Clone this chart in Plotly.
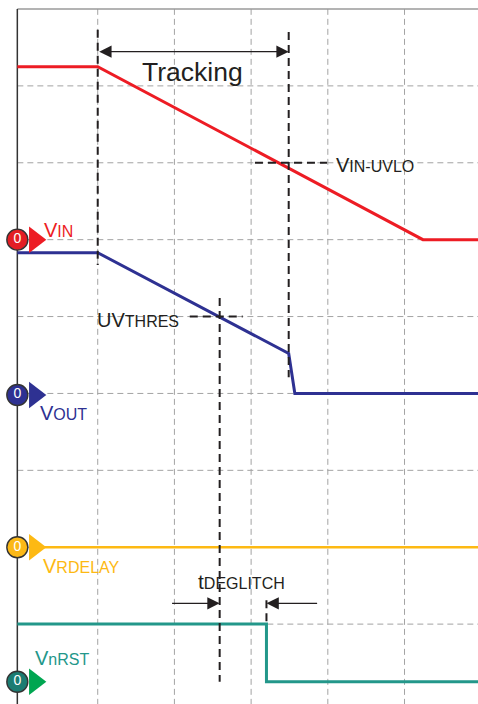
import plotly.graph_objects as go

# x in grid divisions, y in grid divisions counted from the bottom
vinX = [-0.048, 1.0, 5.24, 5.96]
vinY = [8.25, 8.25, 6.0, 6.0]

voutX = [-0.048, 1.0, 3.49, 3.57, 5.96]
voutY = [5.83, 5.83, 4.52, 4.0, 4.0]

vrdelayX = [0.29, 5.96]
vrdelayY = [2.0, 2.0]

vnrstX = [-0.048, 3.20, 3.20, 5.96]
vnrstY = [1.0, 1.0, 0.25, 0.25]

zeroLevels = [6.0, 3.98, 2.0, 0.25]   # VIN, VOUT, VRDELAY, VnRST
gridX = [1, 2, 3, 4, 5]
gridY = [1, 2, 3, 4, 5, 6, 7, 8]

RED = '#ed1c24'
BLUE = '#2e3192'
YELLOW = '#fdb913'
TEAL = '#23978a'
DARK = '#231f20'
FONT = 'Liberation Sans, Arial, sans-serif'
AXL = -0.048

fig = go.Figure()

# 파형
fig.add_trace(go.Scatter(x=vinX, y=vinY, mode='lines', line=dict(color=RED, width=3)))
fig.add_trace(go.Scatter(x=voutX, y=voutY, mode='lines', line=dict(color=BLUE, width=3)))
fig.add_trace(go.Scatter(x=vrdelayX, y=vrdelayY, mode='lines', line=dict(color=YELLOW, width=2.5)))
fig.add_trace(go.Scatter(x=vnrstX, y=vnrstY, mode='lines', line=dict(color=TEAL, width=3)))

# 0 레벨 마커
circleCols = ['#e31e24', BLUE, '#fbb817', '#1b7c72']
triCols = [RED, BLUE, YELLOW, '#00a651']
for lvl, cc, tc in zip(zeroLevels, circleCols, triCols):
    fig.add_trace(go.Scatter(x=[0.18], y=[lvl], mode='markers',
                             marker=dict(symbol='triangle-right', size=23, color=tc)))
    fig.add_trace(go.Scatter(x=[AXL], y=[lvl], mode='markers+text', text=['0'],
                             textposition='middle center',
                             textfont=dict(color='white', size=14, family=FONT),
                             marker=dict(size=21, color=cc, line=dict(color='#333333', width=1.4))))

shapes = []
for gx in gridX:
    shapes.append(dict(type='line', xref='x', yref='y', x0=gx, x1=gx, y0=-0.05, y1=9,
                       line=dict(color='#a3a3a3', width=1, dash='6px,4px'), layer='below'))
for gy in gridY:
    shapes.append(dict(type='line', xref='x', yref='y', x0=AXL, x1=6.0, y0=gy, y1=gy,
                       line=dict(color='#a3a3a3', width=1, dash='6px,4px'), layer='below'))
shapes.append(dict(type='line', xref='x', yref='y', x0=AXL, x1=6.0, y0=9, y1=9,
                   line=dict(color='#9a9a9a', width=1.5), layer='below'))
shapes.append(dict(type='line', xref='x', yref='y', x0=AXL, x1=AXL, y0=-0.05, y1=9,
                   line=dict(color='#333333', width=1.5), layer='below'))

# 검은 점선 (기준선)
blackDash = [
    (1.0, 1.0, 8.73, 5.67),
    (3.49, 3.49, 8.70, 4.21),
    (2.59, 2.59, 5.24, 0.25),
    (3.20, 3.20, 1.31, 1.0),
    (3.05, 3.99, 7.0, 7.0),
    (2.20, 2.89, 5.0, 5.0),
]
for x0, x1, y0, y1 in blackDash:
    shapes.append(dict(type='line', xref='x', yref='y', x0=x0, x1=x1, y0=y0, y1=y1,
                       line=dict(color=DARK, width=2, dash='8px,5px')))

def label(big, small, size2=16):
    return big + '<span style="font-size:%spx">%s</span>' % (size2, small)

annotations = [
    dict(x=2.24, y=8.18, text='Tracking', font=dict(size=26.5, color=DARK)),
    dict(x=4.08, y=6.97, xanchor='left', text=label('V', 'IN-UVLO'), font=dict(size=20, color=DARK)),
    dict(x=0.96, y=4.96, xanchor='left', text=label('UV', 'THRES'), font=dict(size=20, color=DARK)),
    dict(x=0.28, y=6.12, xanchor='left', text=label('V', 'IN'), font=dict(size=20, color=RED)),
    dict(x=0.22, y=3.75, xanchor='left', text=label('V', 'OUT'), font=dict(size=20, color=BLUE)),
    dict(x=0.26, y=1.76, xanchor='left', text=label('V', 'RDELAY'), font=dict(size=20, color=YELLOW)),
    dict(x=0.15, y=0.56, xanchor='left', text=label('V', 'nRST'), font=dict(size=20, color=TEAL)),
    dict(x=2.28, y=1.56, xanchor='left', text=label('t', 'DEGLITCH'), font=dict(size=21, color=DARK)),
]
for a in annotations:
    a.update(xref='x', yref='y', showarrow=False, yanchor='middle')
    a['font']['family'] = FONT

# 화살표
arrows = [
    dict(x=3.49, y=8.445, ax=1.0, ay=8.445, arrowside='end+start'),
    dict(x=2.59, y=1.27, ax=1.95, ay=1.27, arrowside='end'),
    dict(x=3.20, y=1.27, ax=3.88, ay=1.27, arrowside='end'),
]
for a in arrows:
    a.update(xref='x', yref='y', axref='x', ayref='y', text='', showarrow=True,
             arrowhead=2, arrowsize=1.9, arrowwidth=1.3, arrowcolor=DARK,
             standoff=0, startstandoff=0, startarrowhead=2, startarrowsize=1.9)
    annotations.append(a)

fig.update_layout(
    width=478, height=704,
    margin=dict(l=0, r=0, t=0, b=0),
    paper_bgcolor='white', plot_bgcolor='white',
    showlegend=False,
    xaxis=dict(range=[-0.274, 5.958], visible=False, fixedrange=True),
    yaxis=dict(range=[-0.039, 9.117], visible=False, fixedrange=True),
    shapes=shapes,
    annotations=annotations,
)

# 페이지 기본 여백 제거
fig.write_html("out.html", config=dict(displayModeBar=False),
               post_script="document.body.style.margin='0px';")
